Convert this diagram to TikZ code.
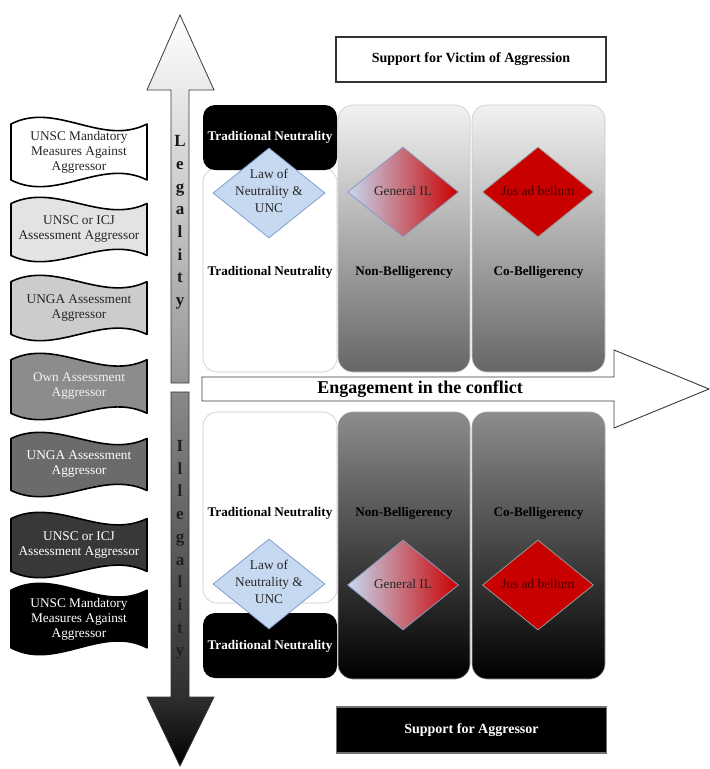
\documentclass[tikz,border=0pt]{standalone}
\usepackage{fontspec}
\setmainfont{Liberation Serif}
\usetikzlibrary{shapes.geometric}

\definecolor{lightblue}{HTML}{C6D9F1}
\definecolor{blueline}{HTML}{7F9FCC}
\definecolor{greyblue}{HTML}{8A9BBE}
\definecolor{deepred}{HTML}{C80000}
\definecolor{panelline}{HTML}{C8C8C8}
\definecolor{arrowline}{HTML}{3A3A3A}

% darkening ramp for the downward arrow (path spans 25bp..75bp)
\pgfdeclareverticalshading{illegalramp}{100bp}{color(0bp)=(black); color(25bp)=(black);
  color(34bp)=(black!82); color(75bp)=(black!46); color(100bp)=(black!46)}

\tikzset{
  banner/.style={draw=black, line width=1.6pt, line join=round},
  bantext/.style={align=center, inner sep=0pt, font=\fontsize{13.3}{15}\selectfont},
  lbl/.style={inner sep=0pt, font=\bfseries\fontsize{13.2}{15}\selectfont},
  wbox/.style={draw=panelline, line width=0.6pt, fill=white, rounded corners=14pt,
    inner sep=0pt},
  blkbox/.style={fill=black, rounded corners=12pt, inner sep=0pt},
  gradup/.style={draw=panelline, line width=0.6pt, rounded corners=15pt, inner sep=0pt,
    top color=white!95!black, bottom color=black!60!white},
  graddown/.style={draw=black!35, line width=0.6pt, rounded corners=15pt, inner sep=0pt,
    top color=black!45, bottom color=black},
  dia/.style={diamond, inner sep=0pt, minimum width=111pt, minimum height=90pt,
    line width=0.8pt},
  dtext/.style={align=center, inner sep=0pt, font=\fontsize{13.3}{17}\selectfont},
  vword/.style={align=center, inner sep=0pt, font=\bfseries\fontsize{17}{22.7}\selectfont},
  suppbox/.style={inner sep=0pt, minimum width=270pt, minimum height=45pt,
    line width=1.1pt, font=\bfseries\fontsize{14}{16}\selectfont},
}

% wavy banner: name, top, bottom, fill, text colour, text
\newcommand{\wavebanner}[6]{%
  \pgfmathsetmacro{\bnAmp}{(#3-#2)/10}%
  \pgfmathsetmacro{\bnTop}{#2+\bnAmp}%
  \pgfmathsetmacro{\bnBot}{#3-\bnAmp}%
  \pgfmathsetmacro{\bnCtl}{3.3*\bnAmp}%
  \draw[banner, fill=#4] (11,\bnTop) .. controls (56.3,\bnTop-\bnCtl) and (101.7,\bnTop+\bnCtl) .. (147,\bnTop)
     -- (147,\bnBot) .. controls (101.7,\bnBot-\bnCtl) and (56.3,\bnBot+\bnCtl) .. (11,\bnBot) -- cycle;
  \node[bantext, text=#5] (#1) at (79,{(#2+#3)/2}) {#6};
}

\begin{document}
\begin{tikzpicture}[x=1pt, y=-1pt]
\useasboundingbox (0,0) rectangle (710,769);

% ---- vertical scale arrows
\draw[draw=arrowline, line width=0.8pt, top color=white, bottom color=black!42]
  (180,15) -- (214,90) -- (189,90) -- (189,383) -- (171,383) -- (171,90) -- (147,90) -- cycle;
\draw[draw=black!80, line width=0.8pt, shading=illegalramp]
  (171,392) -- (189,392) -- (189,697) -- (214,697) -- (180,766) -- (147,697) -- (171,697) -- cycle;

\node[vword, text=black!90] (legal) at (180,222.5) {L\\e\\g\\a\\l\\i\\t\\y};
\node[vword, text=black!88] (illegal) at (180,550) {I\\l\\l\\e\\g\\a\\l\\i\\t\\y};

% ---- horizontal engagement arrow
\draw[draw=arrowline, line width=0.9pt, fill=white]
  (202,377) -- (614,377) -- (614,350) -- (709,389) -- (614,428) -- (614,401) -- (202,401) -- cycle;
\node[inner sep=0pt, font=\bfseries\fontsize{18}{20}\selectfont] (engage) at (420,389.5)
  {Engagement in the conflict};

% ---- assessment banners
\wavebanner{b1}{117}{187}{white}{black!85}{UNSC Mandatory\\Measures Against\\Aggressor}
\wavebanner{b2}{197}{262}{black!11}{black!85}{UNSC or ICJ\\Assessment Aggressor}
\wavebanner{b3}{275}{341}{black!20}{black!85}{UNGA Assessment\\Aggressor}
\wavebanner{b4}{353}{420}{black!45}{black!5}{Own Assessment\\Aggressor}
\wavebanner{b5}{432}{497}{black!58}{white}{UNGA Assessment\\Aggressor}
\wavebanner{b6}{512}{578}{black!78}{white}{UNSC or ICJ\\Assessment Aggressor}
\wavebanner{b7}{583}{655}{black}{white}{UNSC Mandatory\\Measures Against\\Aggressor}

% ---- support boxes
\node[suppbox, draw=black!80, fill=white] (victim) at (471,59.5) {Support for Victim of Aggression};
\node[suppbox, draw=black!55, fill=black, text=white, minimum height=46pt] (aggr) at (471.5,730)
  {Support for Aggressor};

% ---- upper (legal) panels
\node[wbox, minimum width=134pt, minimum height=204pt] (tnU) at (270,270) {};
\node[blkbox, minimum width=134pt, minimum height=65pt] (tnUb) at (270,137.5) {};
\node[gradup, minimum width=132pt, minimum height=267pt] (nbU) at (404,238.5) {};
\node[gradup, minimum width=133pt, minimum height=267pt] (cbU) at (538.5,238.5) {};

\node[lbl, text=white] (tnUbl) at (270,137.5) {Traditional Neutrality};
\node[lbl] (tnUl) at (270,272) {Traditional Neutrality};
\node[lbl] (nbUl) at (404,272) {Non-Belligerency};
\node[lbl] (cbUl) at (538.5,272) {Co-Belligerency};

\node[dia, draw=blueline, fill=lightblue, minimum width=112pt] (lawU) at (269,193) {};
\node[dtext, text=black!85] (lawUt) at (269,191) {Law of\\Neutrality \&\\UNC};
\node[dia, draw=greyblue, left color=lightblue, right color=deepred] (genU) at (403,192) {};
\node[dtext, text=black!85] (genUt) at (403,191) {General IL};
\node[dia, draw=black!40, fill=deepred] (jusU) at (538,192) {};
\node[dtext, text=black!70!red] (jusUt) at (538,191) {Jus ad bellum};

% ---- lower (illegal) panels
\node[wbox, minimum width=134pt, minimum height=191pt] (tnL) at (270,507.5) {};
\node[blkbox, minimum width=134pt, minimum height=65pt] (tnLb) at (270,645.5) {};
\node[graddown, minimum width=132pt, minimum height=267pt] (nbL) at (404,545.5) {};
\node[graddown, minimum width=133pt, minimum height=267pt] (cbL) at (538.5,545.5) {};

\node[lbl, text=white] (tnLbl) at (270,646) {Traditional Neutrality};
\node[lbl] (tnLl) at (270,513) {Traditional Neutrality};
\node[lbl] (nbLl) at (404,513) {Non-Belligerency};
\node[lbl] (cbLl) at (538.5,513) {Co-Belligerency};

\node[dia, draw=blueline, fill=lightblue, minimum width=112pt] (lawL) at (269,584) {};
\node[dtext, text=black!85] (lawLt) at (269,582) {Law of\\Neutrality \&\\UNC};
\node[dia, draw=greyblue, left color=lightblue, right color=deepred] (genL) at (403,585) {};
\node[dtext, text=black!85] (genLt) at (403,584) {General IL};
\node[dia, draw=black!40, fill=deepred] (jusL) at (538,585) {};
\node[dtext, text=black!70!red] (jusLt) at (538,584) {Jus ad bellum};

\end{tikzpicture}
\end{document}
